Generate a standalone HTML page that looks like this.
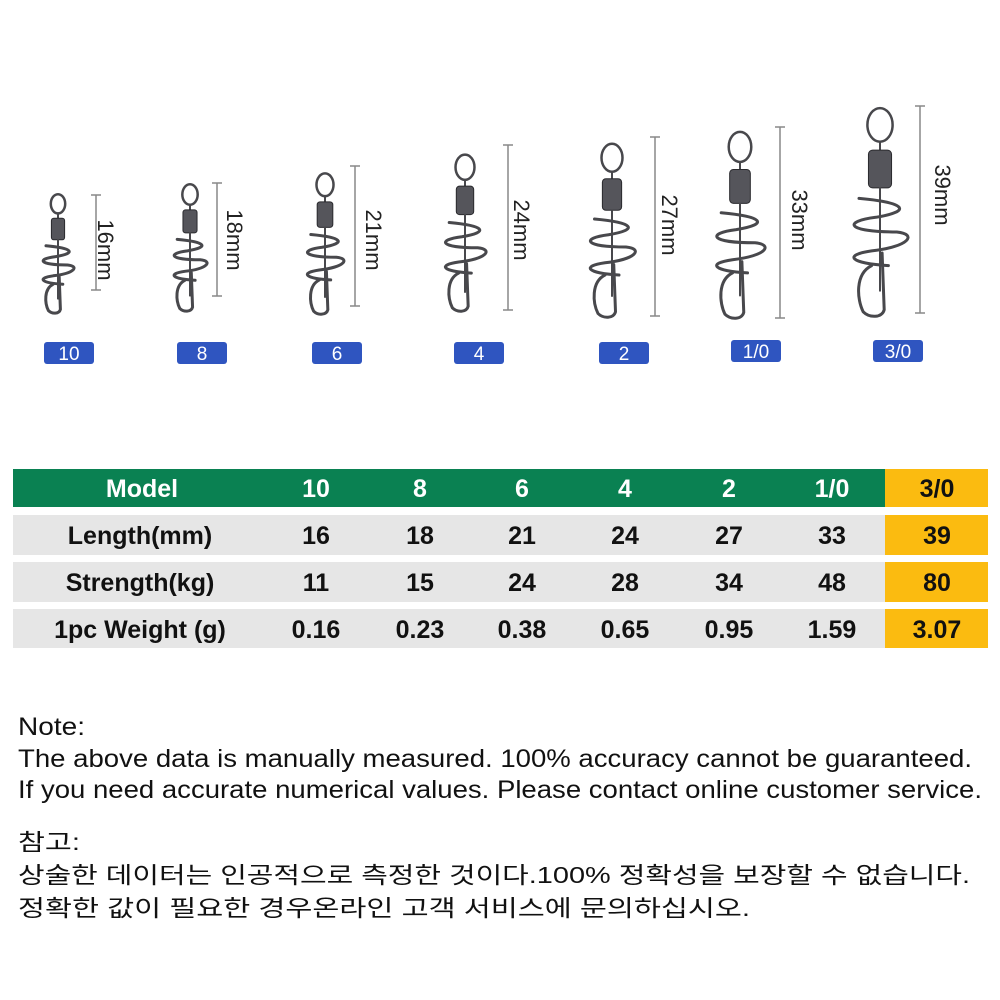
<!DOCTYPE html>
<html><head><meta charset="utf-8"><style>
html,body{margin:0;padding:0;background:#fff}
svg{display:block}
</style></head><body>
<svg width="1000" height="1000" viewBox="0 0 1000 1000" xmlns="http://www.w3.org/2000/svg">
<defs>
<g id="sw" fill="none" stroke="#48484c" stroke-linecap="round">
 <ellipse cx="0" cy="9" rx="6" ry="8" stroke-width="2.5" vector-effect="non-scaling-stroke"/>
 <line x1="0" y1="17" x2="0" y2="22" stroke-width="2" vector-effect="non-scaling-stroke"/>
 <rect x="-5.5" y="21" width="11" height="18" rx="2" fill="#55555b" stroke="#2a2a2e" stroke-width="1" vector-effect="non-scaling-stroke"/>
 <line x1="0" y1="39" x2="0" y2="88" stroke-width="2" vector-effect="non-scaling-stroke"/>
 <path d="M-10 44 C 12 46 16 50 -2 53 C -18 55 -16 60 8 60 C 18 61 14 67 -4 69 C -18 71 -14 75 4 76" stroke-width="3" vector-effect="non-scaling-stroke"/>
 <path d="M-4 76 C -12 80 -11 92 -8 98 C -5 101 1 101 2 97 L 1 70" stroke-width="3" vector-effect="non-scaling-stroke"/>
</g>
</defs>
<g>
 <use href="#sw" transform="translate(58,193) scale(1.2)"/>
 <use href="#sw" transform="translate(190,183) scale(1.28)"/>
 <use href="#sw" transform="translate(325,172) scale(1.42)"/>
 <use href="#sw" transform="translate(465,153) scale(1.58)"/>
 <use href="#sw" transform="translate(612,142) scale(1.75)"/>
 <use href="#sw" transform="translate(740,130) scale(1.88)"/>
 <use href="#sw" transform="translate(880,106) scale(2.1)"/>
</g>
<g stroke="#888" stroke-width="1.5">
 <line x1="96" y1="195" x2="96" y2="290"/><line x1="91" y1="195" x2="101" y2="195"/><line x1="91" y1="290" x2="101" y2="290"/>
 <line x1="217" y1="183" x2="217" y2="296"/><line x1="212" y1="183" x2="222" y2="183"/><line x1="212" y1="296" x2="222" y2="296"/>
 <line x1="355" y1="166" x2="355" y2="306"/><line x1="350" y1="166" x2="360" y2="166"/><line x1="350" y1="306" x2="360" y2="306"/>
 <line x1="508" y1="145" x2="508" y2="310"/><line x1="503" y1="145" x2="513" y2="145"/><line x1="503" y1="310" x2="513" y2="310"/>
 <line x1="655" y1="137" x2="655" y2="316"/><line x1="650" y1="137" x2="660" y2="137"/><line x1="650" y1="316" x2="660" y2="316"/>
 <line x1="780" y1="127" x2="780" y2="318"/><line x1="775" y1="127" x2="785" y2="127"/><line x1="775" y1="318" x2="785" y2="318"/>
 <line x1="920" y1="106" x2="920" y2="313"/><line x1="915" y1="106" x2="925" y2="106"/><line x1="915" y1="313" x2="925" y2="313"/>
</g>
<g font-family="Liberation Sans, sans-serif" font-size="22" fill="#222">
 <text transform="translate(98,250) rotate(90)" text-anchor="middle">16mm</text>
 <text transform="translate(227,240) rotate(90)" text-anchor="middle">18mm</text>
 <text transform="translate(366,240) rotate(90)" text-anchor="middle">21mm</text>
 <text transform="translate(514,230) rotate(90)" text-anchor="middle">24mm</text>
 <text transform="translate(662,225) rotate(90)" text-anchor="middle">27mm</text>
 <text transform="translate(792,220) rotate(90)" text-anchor="middle">33mm</text>
 <text transform="translate(935,195) rotate(90)" text-anchor="middle">39mm</text>
</g>
<g fill="#2f55c0">
 <rect x="44" y="342" width="50" height="22" rx="3"/>
 <rect x="177" y="342" width="50" height="22" rx="3"/>
 <rect x="312" y="342" width="50" height="22" rx="3"/>
 <rect x="454" y="342" width="50" height="22" rx="3"/>
 <rect x="599" y="342" width="50" height="22" rx="3"/>
 <rect x="731" y="340" width="50" height="22" rx="3"/>
 <rect x="873" y="340" width="50" height="22" rx="3"/>
</g>
<g font-family="Liberation Sans, sans-serif" font-size="19" fill="#fff" text-anchor="middle">
 <text x="69" y="360">10</text><text x="202" y="360">8</text><text x="337" y="360">6</text>
 <text x="479" y="360">4</text><text x="624" y="360">2</text><text x="756" y="358">1/0</text><text x="898" y="358">3/0</text>
</g>
<rect x="13" y="469" width="872" height="38" fill="#0a8152"/>
<rect x="13" y="515" width="872" height="40" fill="#e6e6e6"/>
<rect x="13" y="562" width="872" height="40" fill="#e6e6e6"/>
<rect x="13" y="609" width="872" height="39" fill="#e6e6e6"/>
<rect x="885" y="469" width="103" height="38" fill="#fbbb10"/>
<rect x="885" y="515" width="103" height="40" fill="#fbbb10"/>
<rect x="885" y="562" width="103" height="40" fill="#fbbb10"/>
<rect x="885" y="609" width="103" height="39" fill="#fbbb10"/>
<g font-family="Liberation Sans, sans-serif" font-size="25" font-weight="bold" text-anchor="middle">
 <g fill="#fff"><text x="142" y="497">Model</text><text x="316" y="497">10</text><text x="420" y="497">8</text><text x="522" y="497">6</text><text x="625" y="497">4</text><text x="729" y="497">2</text><text x="832" y="497">1/0</text></g>
 <g fill="#111">
  <text x="937" y="497">3/0</text>
  <text x="140" y="544">Length(mm)</text><text x="316" y="544">16</text><text x="420" y="544">18</text><text x="522" y="544">21</text><text x="625" y="544">24</text><text x="729" y="544">27</text><text x="832" y="544">33</text><text x="937" y="544">39</text>
  <text x="140" y="591">Strength(kg)</text><text x="316" y="591">11</text><text x="420" y="591">15</text><text x="522" y="591">24</text><text x="625" y="591">28</text><text x="729" y="591">34</text><text x="832" y="591">48</text><text x="937" y="591">80</text>
  <text x="140" y="638">1pc Weight (g)</text><text x="316" y="638">0.16</text><text x="420" y="638">0.23</text><text x="522" y="638">0.38</text><text x="625" y="638">0.65</text><text x="729" y="638">0.95</text><text x="832" y="638">1.59</text><text x="937" y="638">3.07</text>
 </g>
</g>
<g font-family="Liberation Sans, sans-serif" font-size="25" fill="#111">
 <text x="18" y="735" textLength="67" lengthAdjust="spacingAndGlyphs">Note:</text>
 <text x="18" y="767" textLength="954" lengthAdjust="spacingAndGlyphs">The above data is manually measured. 100% accuracy cannot be guaranteed.</text>
 <text x="18" y="798" textLength="964" lengthAdjust="spacingAndGlyphs">If you need accurate numerical values. Please contact online customer service.</text>
</g>
<g font-family="Liberation Sans, 'Noto Sans CJK KR', sans-serif" font-size="23" fill="#111">
 <text x="18" y="850" textLength="62" lengthAdjust="spacingAndGlyphs">참고:</text>
 <text x="18" y="883" textLength="952" lengthAdjust="spacingAndGlyphs">상술한 데이터는 인공적으로 측정한 것이다.100% 정확성을 보장할 수 없습니다.</text>
 <text x="18" y="916" textLength="732" lengthAdjust="spacingAndGlyphs">정확한 값이 필요한 경우온라인 고객 서비스에 문의하십시오.</text>
</g>
</svg>
</body></html>
